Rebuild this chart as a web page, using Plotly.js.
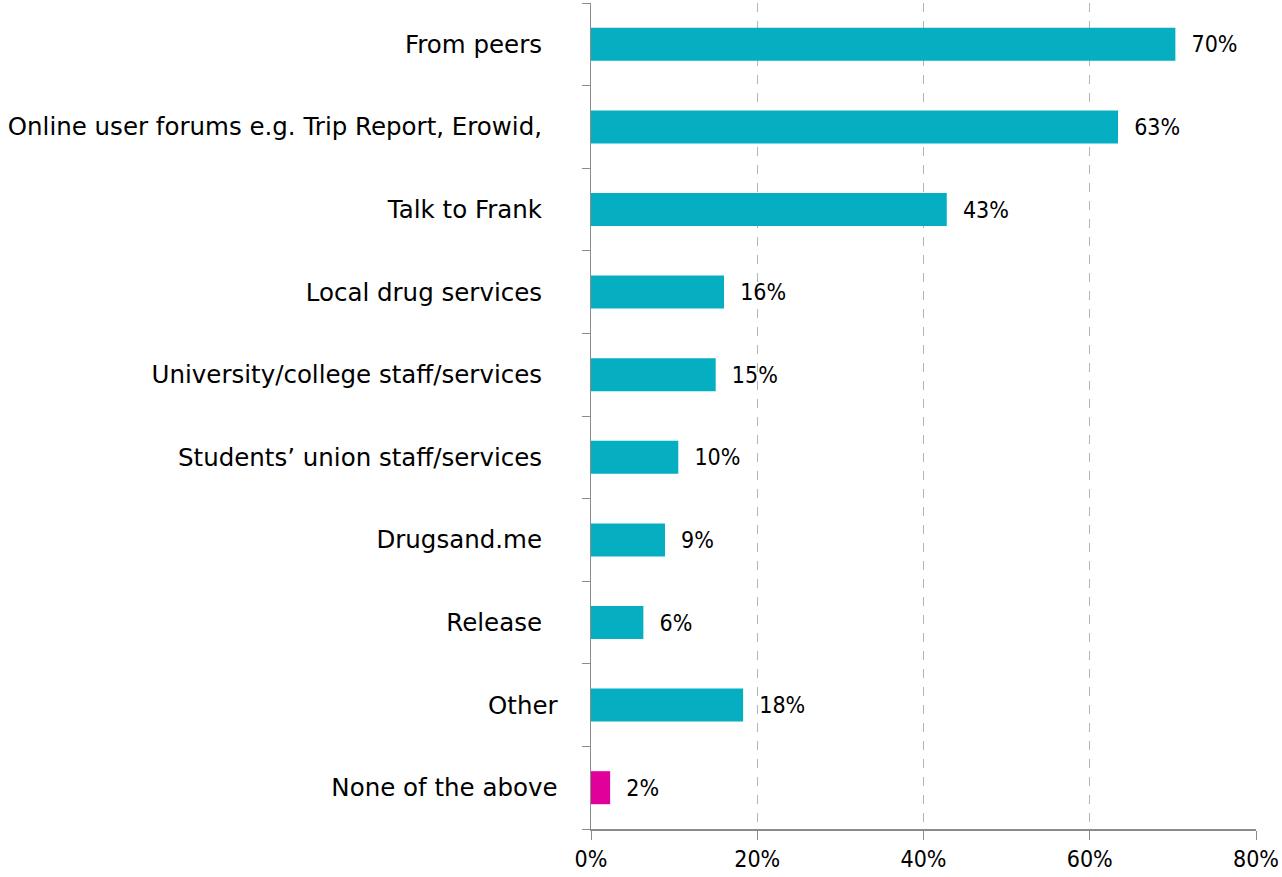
<!DOCTYPE html>
<html><head><meta charset="utf-8">
<script src="https://cdn.plot.ly/plotly-3.0.1.min.js"></script>
<style>body{margin:0;background:#fff}#c{width:1282px;height:877px}</style>
</head><body><div id="c"></div>
<script>
const categories = ["From peers","Online user forums e.g. Trip Report, Erowid,","Talk to Frank","Local drug services","University/college staff/services","Students\u2019 union staff/services","Drugsand.me","Release","Other","None of the above"];
const values = [70.3, 63.4, 42.8, 16.0, 15.0, 10.5, 8.9, 6.3, 18.3, 2.3];
const valueLabels = ["70%","63%","43%","16%","15%","10%","9%","6%","18%","2%"];
const labelPad = ["\u00a0\u00a0","\u00a0\u00a0","\u00a0\u00a0","\u00a0\u00a0","\u00a0\u00a0","\u00a0\u00a0","\u00a0\u00a0","\u00a0\u00a0","",""];
const xTicks = [0,20,40,60,80];
const xTickLabels = ["0%","20%","40%","60%","80%"];
const colors = values.map((v,i)=> i===categories.length-1 ? "#E2009A" : "#05AFC1");

const trace = {
  type:"bar", orientation:"h",
  y: categories, x: values,
  text: valueLabels, texttemplate:"\u00a0\u00a0%{text}",
  textposition:"outside", cliponaxis:false,
  textfont:{family:"Liberation Sans Narrow, DejaVu Sans Condensed, sans-serif", size:23, color:"#000"},
  marker:{color:colors},
  hoverinfo:"none"
};
const layout = {
  width:1282, height:877,
  margin:{l:591, r:26, t:3, b:48},
  paper_bgcolor:"#fff", plot_bgcolor:"#fff",
  bargap:0.6, showlegend:false,
  font:{family:"DejaVu Sans, Tahoma, sans-serif", size:24.5, color:"#000"},
  xaxis:{range:[0,80], tickvals:xTicks, ticktext:xTickLabels,
    showgrid:true, gridcolor:"#A9B8B8", griddash:"dash", gridwidth:1,
    showline:true, linecolor:"#8C8C8C", linewidth:1.5,
    ticks:"outside", ticklen:9, tickcolor:"#8C8C8C",
    tickfont:{family:"Liberation Sans Narrow, DejaVu Sans Condensed, sans-serif", size:23},
    zeroline:false, fixedrange:true},
  yaxis:{autorange:"reversed", type:"category",
    tickvals:categories, ticktext:categories.map((c,i)=>c+labelPad[i]),
    showline:true, linecolor:"#8C8C8C", linewidth:1.5,
    ticks:"outside", tickson:"boundaries", ticklen:8, tickcolor:"#8C8C8C",
    ticklabelstandoff:27, showgrid:false, fixedrange:true}
};
Plotly.newPlot("c",[trace],layout,{displayModeBar:false,staticPlot:true});
</script></body></html>
